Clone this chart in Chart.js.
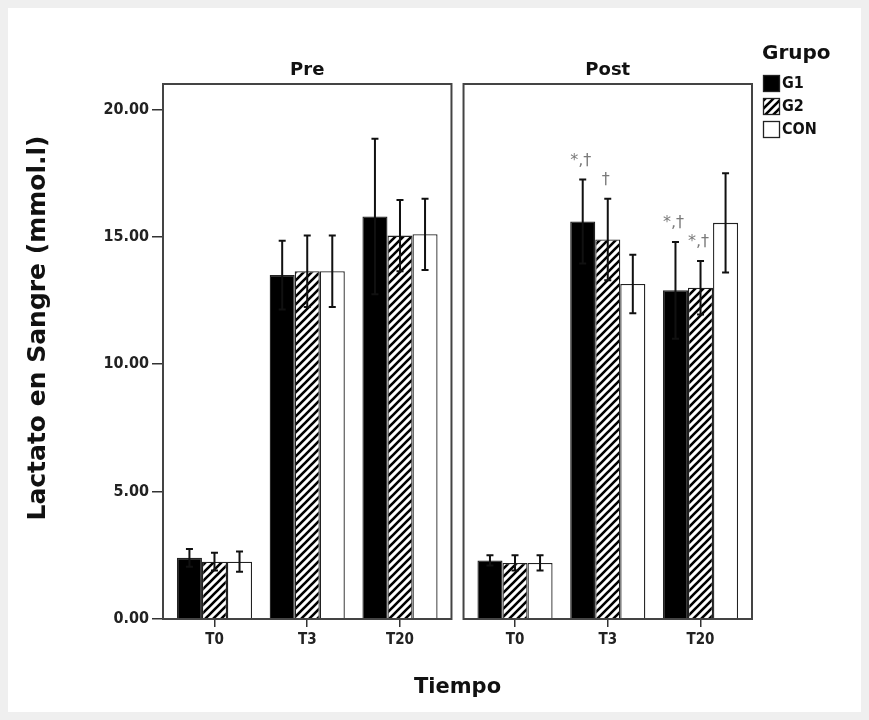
<!DOCTYPE html>
<html><head><meta charset="utf-8">
<script src="https://cdn.jsdelivr.net/npm/chart.js@4.4.0/dist/chart.umd.min.js"></script>
<style>
html,body{margin:0;padding:0;background:#efefef;width:869px;height:720px;overflow:hidden}
#panel{position:absolute;left:8px;top:8px;width:853px;height:704px;background:#fff}
#wrap{position:absolute;left:0;top:0;width:869px;height:720px}
</style></head><body>
<div id="panel"></div>
<div id="wrap"><canvas id="c" width="869" height="720"></canvas></div>
<script>
// ---- data ----
const CATEGORIES = ['T0', 'T3', 'T20'];
const PANELS = ['Pre', 'Post'];
const SERIES = ['G1', 'G2', 'CON'];
// order: Pre T0, Pre T3, Pre T20, Post T0, Post T3, Post T20
const G1_MEAN  = [2.40, 13.50, 15.80, 2.30, 15.60, 12.90];
const G1_SD    = [0.35, 1.35, 3.05, 0.20, 1.65, 1.90];
const G2_MEAN  = [2.25, 13.65, 15.05, 2.20, 14.90, 13.00];
const G2_SD    = [0.35, 1.40, 1.40, 0.30, 1.60, 1.05];
const CON_MEAN = [2.25, 13.65, 15.10, 2.20, 13.15, 15.55];
const CON_SD   = [0.40, 1.40, 1.40, 0.30, 1.15, 1.95];
const Y_TICKS  = [0, 5, 10, 15, 20];
const Y_TITLE = 'Lactato en Sangre (mmol.l)';
const X_TITLE = 'Tiempo';
const LEGEND_TITLE = 'Grupo';
const ANNOTATIONS = [
  { panel: 1, cat: 1, series: 0, text: '*,†' },
  { panel: 1, cat: 1, series: 1, text: '†' },
  { panel: 1, cat: 2, series: 0, text: '*,†' },
  { panel: 1, cat: 2, series: 1, text: '*,†' }
];

// ---- layout constants ----
const PANEL_SHIFT = 3.24;   // x distance between panels (in category units)
const PANEL_PAD = 0.555;    // panel inset on each side
const xPos = (p, c) => p * PANEL_SHIFT + c;
const mk = arr => arr.map((v, i) => ({ x: xPos(Math.floor(i / 3), i % 3), y: v }));

function hatch() {
  const s = 8, c = document.createElement('canvas');
  c.width = s; c.height = s;
  const g = c.getContext('2d');
  g.fillStyle = '#fff'; g.fillRect(0, 0, s, s);
  g.strokeStyle = '#000'; g.lineWidth = 2.6; g.lineCap = 'square';
  g.beginPath();
  g.moveTo(-2, s + 2); g.lineTo(s + 2, -2);
  g.moveTo(-2, 2); g.lineTo(2, -2);
  g.moveTo(s - 2, s + 2); g.lineTo(s + 2, s - 2);
  g.stroke();
  return g.createPattern(c, 'repeat');
}
const ctx = document.getElementById('c').getContext('2d');
const HATCH = hatch();
const FILLS = ['#000000', HATCH, '#ffffff'];
const MEANS = [G1_MEAN, G2_MEAN, CON_MEAN];
const SDS = [G1_SD, G2_SD, CON_SD];

const FB = 'DejaVu Sans';
const FC = 'DejaVu Sans Condensed';

const framePlugin = {
  id: 'frames',
  afterDatasetsDraw(chart) {
    const { ctx, chartArea: a, scales: { x } } = chart;
    ctx.save();
    ctx.strokeStyle = '#444'; ctx.lineWidth = 2;
    PANELS.forEach((name, p) => {
      const l = x.getPixelForValue(xPos(p, 0) - PANEL_PAD);
      const r = x.getPixelForValue(xPos(p, 2) + PANEL_PAD);
      ctx.strokeRect(l, a.top, r - l, a.bottom - a.top);
      ctx.fillStyle = '#111';
      ctx.font = 'bold 18px "' + FB + '"';
      ctx.textAlign = 'center'; ctx.textBaseline = 'bottom';
      ctx.fillText(name, (l + r) / 2, a.top - 5);
    });
    // y-axis title
    ctx.save();
    ctx.translate(38, 328);
    ctx.rotate(-Math.PI / 2);
    ctx.font = 'bold 25px "' + FB + '"';
    ctx.textAlign = 'center'; ctx.textBaseline = 'middle';
    ctx.fillText(Y_TITLE, 0, 0);
    ctx.restore();
    ctx.restore();
  }
};

const errorPlugin = {
  id: 'errbars',
  afterDatasetsDraw(chart) {
    const { ctx, scales: { y } } = chart;
    ctx.save();
    ctx.strokeStyle = '#111'; ctx.lineWidth = 2;
    chart.data.datasets.forEach((ds, di) => {
      const meta = chart.getDatasetMeta(di);
      meta.data.forEach((el, i) => {
        const m = MEANS[di][i], s = SDS[di][i];
        const yt = y.getPixelForValue(m + s), yb = y.getPixelForValue(m - s);
        ctx.beginPath();
        ctx.moveTo(el.x, yt); ctx.lineTo(el.x, yb);
        ctx.moveTo(el.x - 3.5, yt); ctx.lineTo(el.x + 3.5, yt);
        ctx.moveTo(el.x - 3.5, yb); ctx.lineTo(el.x + 3.5, yb);
        ctx.stroke();
      });
    });
    // significance marks
    ctx.fillStyle = '#7a7a7a';
    ctx.font = '16px "' + FB + '"';
    ctx.textAlign = 'center'; ctx.textBaseline = 'bottom';
    ANNOTATIONS.forEach(an => {
      const idx = an.panel * 3 + an.cat;
      const el = chart.getDatasetMeta(an.series).data[idx];
      const yt = y.getPixelForValue(MEANS[an.series][idx] + SDS[an.series][idx]);
      ctx.fillText(an.text, el.x - 2, yt - 11);
    });
    ctx.restore();
  }
};

const legendPlugin = {
  id: 'grupoLegend',
  afterDraw(chart) {
    const { ctx, chartArea: a } = chart;
    const x0 = a.right + 11;
    ctx.save();
    ctx.fillStyle = '#111';
    ctx.font = 'bold 20px "' + FB + '"';
    ctx.textAlign = 'left'; ctx.textBaseline = 'alphabetic';
    ctx.fillText(LEGEND_TITLE, x0 - 1, 59);
    ctx.font = 'bold 16px "' + FC + '"';
    ctx.textBaseline = 'middle';
    SERIES.forEach((s, i) => {
      const yc = 83 + i * 23;
      ctx.fillStyle = FILLS[i];
      ctx.fillRect(x0, yc - 8, 17, 17);
      ctx.strokeStyle = '#222'; ctx.lineWidth = 1.3;
      ctx.strokeRect(x0 + 0.5, yc - 7.5, 16, 16);
      ctx.fillStyle = '#111';
      ctx.fillText(s, x0 + 19, yc + 1);
    });
    ctx.restore();
  }
};

new Chart(ctx, {
  type: 'bar',
  data: {
    datasets: SERIES.map((s, i) => ({
      label: s,
      data: mk(MEANS[i]),
      backgroundColor: FILLS[i],
      borderColor: '#222',
      borderWidth: 1.3,
      barPercentage: 1,
      categoryPercentage: 0.81
    }))
  },
  options: {
    responsive: false,
    animation: false,
    layout: { padding: { left: 20, right: 117, top: 84, bottom: 10 } },
    plugins: { legend: { display: false }, tooltip: { enabled: false } },
    scales: {
      x: {
        type: 'linear',
        offset: false,
        min: xPos(0, 0) - PANEL_PAD,
        max: xPos(1, 2) + PANEL_PAD,
        afterBuildTicks: s => {
          s.ticks = [];
          PANELS.forEach((p, pi) => CATEGORIES.forEach((c, ci) => s.ticks.push({ value: xPos(pi, ci) })));
        },
        afterFit: s => { s.height = 91; },
        border: { display: false },
        grid: { offset: false, drawOnChartArea: false, drawTicks: true, tickLength: 8, color: '#333', lineWidth: 1.5 },
        ticks: {
          autoSkip: false, maxRotation: 0, padding: 4, color: '#222',
          font: { family: FC, weight: 'bold', size: 15 },
          callback: (v, i) => CATEGORIES[i % CATEGORIES.length]
        },
        title: {
          display: true, text: X_TITLE, color: '#111',
          font: { family: FB, weight: 'bold', size: 21 },
          padding: { top: 0, bottom: 10 }
        }
      },
      y: {
        min: 0, max: 21,
        afterBuildTicks: s => { s.ticks = Y_TICKS.map(v => ({ value: v })); },
        afterFit: s => { s.width = 143; },
        border: { display: false },
        grid: { drawOnChartArea: false, drawTicks: true, tickLength: 11, color: '#333', lineWidth: 1.5 },
        ticks: {
          padding: 3, color: '#222',
          font: { family: FC, weight: 'bold', size: 16 },
          callback: v => Number(v).toFixed(2)
        },
        title: { display: false }
      }
    }
  },
  plugins: [framePlugin, errorPlugin, legendPlugin]
});
</script>
</body></html>
